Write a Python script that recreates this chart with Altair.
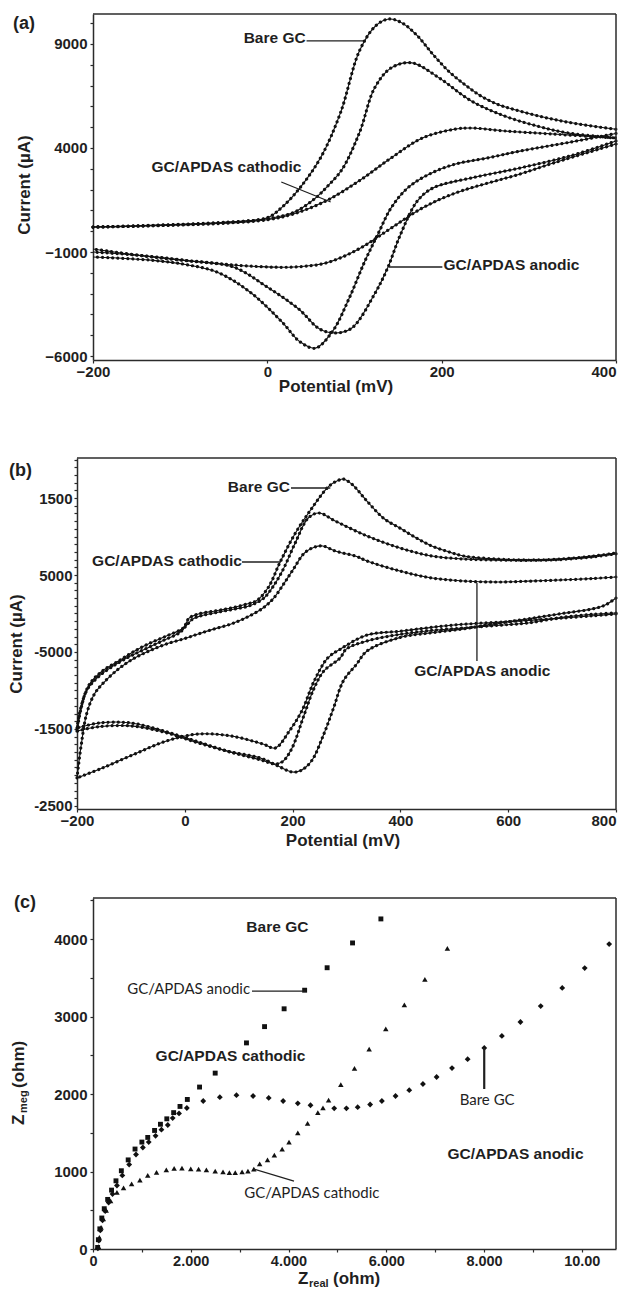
import altair as alt
import pandas as pd

FONT = "Liberation Sans"
NOTE_FONT = "Lato"
INK = "#1f1f1f"
FRAME = "#2b2b2b"
LINE = "#111111"

# ---------------- Panel (a): cyclic voltammograms, -200..400 mV ----------------
a_bare_fwd_mv = [-200, -150, -100, -50, 0, 17, 39, 62, 84, 106, 125, 140, 155, 172, 190, 209, 228, 245, 264, 283, 320, 357, 400]
a_bare_fwd_ua = [200, 260, 330, 430, 650, 1160, 2170, 3600, 5700, 8700, 9900, 10200, 10000, 9400, 8500, 7650, 7000, 6500, 6100, 5850, 5450, 5150, 4900]
a_bare_rev_mv = [400, 350, 290, 250, 216, 186, 161, 142, 127, 112, 94, 75, 55, 37, 17, -20, -58, -94, -131, -200]
a_bare_rev_ua = [4700, 4300, 3850, 3500, 3230, 2750, 2080, 1120, -130, -1430, -3210, -4800, -5620, -5300, -4370, -2920, -1960, -1600, -1400, -1240]

a_mid_fwd_mv = [-200, -150, -100, -50, 0, 30, 54, 70, 86, 106, 123, 142, 166, 197, 234, 272, 309, 345, 400]
a_mid_fwd_ua = [200, 250, 320, 410, 600, 900, 1550, 2200, 2990, 4770, 6880, 7850, 8090, 7370, 6260, 5540, 5060, 4720, 4480]
a_mid_rev_mv = [400, 350, 290, 234, 190, 172, 153, 138, 123, 97, 78, 60, 36, -2, -39, -94, -150, -200]
a_mid_rev_ua = [4340, 3650, 3040, 2560, 2080, 1450, -130, -1770, -3020, -4650, -4890, -4700, -3740, -2630, -1720, -1400, -1150, -1000]

a_low_fwd_mv = [-200, -150, -100, -50, 0, 30, 67, 105, 142, 178, 216, 234, 272, 328, 400]
a_low_fwd_ua = [200, 240, 300, 380, 550, 830, 1450, 2410, 3520, 4480, 4910, 4960, 4820, 4670, 4480]
a_low_rev_mv = [400, 330, 290, 216, 178, 142, 105, 67, 30, -10, -60, -130, -200]
a_low_rev_ua = [4190, 3300, 2750, 1840, 1120, 150, -850, -1530, -1720, -1700, -1550, -1250, -855]

# ---------------- Panel (b): cyclic voltammograms, -200..800 mV ----------------
b_bare_fwd_mv = [-200, -192, -177, -153, -123, -93, -64, -34, -3, 8, 25, 56, 86, 115, 133, 155, 177, 204, 235, 267, 285, 294, 310, 338, 370, 399, 430, 458, 490, 517, 578, 637, 696, 757, 800]
b_bare_fwd_ua = [-14870, -12000, -9200, -7470, -6170, -4870, -3830, -2920, -1880, -600, -70, 330, 710, 1230, 1650, 3400, 6700, 10300, 13600, 16500, 17300, 17470, 16800, 14600, 12300, 11100, 9800, 8770, 8000, 7470, 7080, 6950, 7080, 7450, 7860]
b_bare_rev_mv = [800, 780, 757, 700, 637, 578, 517, 458, 400, 338, 319, 294, 276, 258, 235, 215, 199, 170, 140, 79, 20, -39, -100, -159, -200]
b_bare_rev_ua = [2010, 1100, 600, 0, -700, -1300, -2000, -2500, -3100, -4870, -6560, -8770, -12270, -15650, -19160, -20400, -20580, -19700, -18770, -17860, -16560, -15260, -14220, -14220, -14870]

b_mid_fwd_mv = [-200, -193, -182, -160, -130, -100, -70, -40, -10, 5, 15, 30, 60, 90, 120, 145, 158, 181, 204, 229, 249, 279, 338, 399, 458, 517, 578, 637, 696, 757, 800]
b_mid_fwd_ua = [-15260, -12500, -10000, -8200, -6700, -5500, -4500, -3500, -2500, -1400, -700, -300, 150, 550, 1000, 1900, 2920, 5520, 9030, 12400, 13050, 12010, 10070, 8510, 7470, 7080, 6950, 6900, 7000, 7350, 7750]
b_mid_rev_mv = [800, 757, 700, 637, 578, 517, 458, 400, 338, 300, 288, 258, 240, 222, 199, 182, 168, 140, 79, 20, -39, -100, -159, -200]
b_mid_rev_ua = [65, -100, -500, -1230, -1550, -1880, -2200, -2700, -3570, -4600, -5780, -7470, -9680, -13050, -17470, -19200, -19550, -19000, -17900, -16700, -15400, -14600, -14700, -15260]

b_low_fwd_mv = [-200, -192, -182, -168, -153, -123, -93, -64, -34, 0, 25, 55, 86, 115, 145, 165, 185, 200, 222, 240, 256, 279, 319, 338, 399, 458, 517, 578, 637, 696, 757, 800]
b_low_fwd_ua = [-21360, -17000, -13000, -10500, -9160, -7200, -5780, -4800, -3960, -3250, -2660, -2000, -1360, -500, 710, 2000, 4000, 5600, 7860, 8600, 8770, 8120, 7400, 6820, 5520, 4610, 4220, 4090, 4200, 4350, 4550, 4740]
b_low_rev_mv = [800, 757, 700, 637, 578, 517, 458, 400, 338, 289, 265, 240, 217, 194, 168, 145, 86, 25, -34, -93, -153, -200]
b_low_rev_ua = [-65, -300, -600, -900, -1150, -1400, -1800, -2300, -2800, -4610, -5780, -8770, -12660, -15260, -17470, -16950, -15910, -15650, -16560, -18250, -20070, -21360]

# ---------------- Panel (c): Nyquist plots ----------------
c_top_re = [95, 110, 140, 180, 230, 300, 380, 470, 580, 720, 860, 1000, 1120, 1260, 1380, 1510, 1650, 1780, 1930, 2180, 2500, 3140, 3510, 3910, 4330, 4790, 5310, 5890]
c_top_im = [20, 120, 260, 400, 520, 640, 760, 880, 1010, 1150, 1290, 1380, 1440, 1530, 1610, 1680, 1760, 1840, 1930, 2090, 2270, 2660, 2870, 3100, 3340, 3630, 3950, 4260]

c_mid_re = [100, 120, 150, 195, 250, 320, 400, 490, 600, 740, 880, 1020, 1140, 1280, 1400, 1530, 1630, 1760, 1920, 2255, 2595, 2935, 3275, 3595, 3890, 4190, 4450, 4935, 5185, 5415, 5670, 5910, 6190, 6470, 6750, 7030, 7345, 7665, 8005, 8365, 8745, 9160, 9600, 10060, 10560]
c_mid_im = [10, 110, 240, 370, 490, 600, 710, 820, 950, 1090, 1220, 1310, 1380, 1460, 1540, 1600, 1690, 1750, 1820, 1910, 1960, 1985, 1975, 1950, 1910, 1880, 1855, 1815, 1815, 1830, 1865, 1910, 1975, 2050, 2130, 2220, 2335, 2450, 2595, 2750, 2930, 3135, 3370, 3625, 3935]

c_low_re = [110, 130, 165, 210, 270, 360, 490, 625, 790, 960, 1120, 1300, 1500, 1660, 1820, 2000, 2160, 2320, 2500, 2660, 2790, 2910, 3050, 3170, 3290, 3410, 3570, 3710, 3870, 4010, 4190, 4390, 4600, 4705, 4820, 5070, 5350, 5650, 5990, 6370, 6790, 7250]
c_low_im = [30, 150, 280, 390, 500, 620, 730, 790, 840, 890, 950, 990, 1020, 1040, 1045, 1035, 1030, 1020, 1005, 995, 985, 985, 995, 1005, 1030, 1100, 1150, 1210, 1290, 1380, 1500, 1620, 1760, 1820, 1920, 2120, 2330, 2580, 2840, 3150, 3480, 3880]


def cv_table(series):
    rows = []
    for key, mv, ua in series:
        for i, (x, y) in enumerate(zip(mv, ua)):
            rows.append({"key": key, "i": i, "mV": x, "uA": y})
    return pd.DataFrame(rows)


class Panel:
    def __init__(self, xs, ys, xaxis, yaxis, xf, yf):
        self.xs, self.ys, self.xaxis, self.yaxis, self.xf, self.yf = xs, ys, xaxis, yaxis, xf, yf

    def xy(self):
        return dict(x=alt.X(f"{self.xf}:Q", scale=self.xs, axis=self.xaxis),
                    y=alt.Y(f"{self.yf}:Q", scale=self.ys, axis=self.yaxis))

    def cv(self, df):
        line = alt.Chart(df).mark_line(color=LINE, strokeWidth=1.1, interpolate="catmull-rom").encode(
            detail="key:N", order="i:Q", **self.xy())
        dots = alt.Chart(df).mark_line(color=LINE, strokeWidth=3.2, strokeCap="round",
                                       strokeDash=[0.01, 5.0], interpolate="catmull-rom").encode(
            detail="key:N", order="i:Q", **self.xy())
        return [line, dots]

    def scatter(self, re, im, shape, size):
        df = pd.DataFrame({self.xf: re, self.yf: im})
        return alt.Chart(df).mark_point(filled=True, shape=shape, size=size, color=LINE, opacity=1).encode(**self.xy())

    def note(self, text, xv, yv, align="left", bold=True, size=15.5):
        df = pd.DataFrame({self.xf: [xv], self.yf: [yv], "t": [text]})
        return alt.Chart(df).mark_text(font=FONT if bold else NOTE_FONT,
                                       fontWeight="bold" if bold else "normal",
                                       fontSize=size, align=align, baseline="middle", color=INK).encode(
            text="t:N", **self.xy())

    def pointer(self, x1, y1, x2, y2, width=1.3):
        df = pd.DataFrame({self.xf: [x1], self.yf: [y1], "x2": [x2], "y2": [y2]})
        return alt.Chart(df).mark_rule(color=INK, strokeWidth=width).encode(
            x2="x2:Q", y2="y2:Q", **self.xy())


def px_text(text, x, y, size=17, angle=0, align="center", baseline="middle", weight="bold", font=FONT):
    return alt.Chart(pd.DataFrame({"t": [text]})).mark_text(
        font=font, fontSize=size, fontWeight=weight, align=align, baseline=baseline,
        angle=angle, color=INK).encode(x=alt.value(x), y=alt.value(y), text="t:N")


def px_rule(x, y, x2=None, y2=None):
    enc = {"x": alt.value(x), "y": alt.value(y)}
    if x2 is not None:
        enc["x2"] = alt.value(x2)
    if y2 is not None:
        enc["y2"] = alt.value(y2)
    return alt.Chart(pd.DataFrame({"k": [0]})).mark_rule(color=FRAME, strokeWidth=1.5).encode(**enc)


def ax(**kw):
    base = dict(title=None, grid=False, labelFont=FONT, labelFontSize=15, labelFontWeight="bold",
                labelColor=INK, domainColor=FRAME, domainWidth=1.5, tickColor=FRAME, tickWidth=1.2,
                tickSize=3, labelOverlap=False, labelFlush=False)
    base.update(kw)
    return alt.Axis(**base)


NO_VIEW = alt.ViewBackground(stroke="transparent", strokeWidth=0)
W = 523  # plot width shared by the three panels (page width is limited)

# ---------------- build panel (a) ----------------
A_H = 346
pa = Panel(alt.Scale(domain=[-200, 400], nice=False, zero=False),
           alt.Scale(domain=[-6190, 10440], nice=False, zero=False),
           ax(values=[-200, 0, 200, 400], format="d", labelPadding=1,
              labelAlign={"condition": {"test": "datum.value == 400", "value": "right"}, "value": "center"}),
           ax(values=list(range(-6000, 10001, 1000)), format="d", labelPadding=3,
              labelExpr="(datum.value + 6000) % 5000 == 0 ? datum.label : ''"),
           "mV", "uA")
df_a = cv_table([
    ("bare-f", a_bare_fwd_mv, a_bare_fwd_ua), ("bare-r", a_bare_rev_mv, a_bare_rev_ua),
    ("mid-f", a_mid_fwd_mv, a_mid_fwd_ua), ("mid-r", a_mid_rev_mv, a_mid_rev_ua),
    ("low-f", a_low_fwd_mv, a_low_fwd_ua), ("low-r", a_low_rev_mv, a_low_rev_ua),
])
layers_a = pa.cv(df_a) + [
    pa.note("Bare GC", 44, 9290, align="right"),
    pa.pointer(45, 9145, 110, 9145),
    pa.note("GC/APDAS cathodic", 39, 3090, align="right"),
    pa.pointer(16, 2366, 72.7, 1404),
    pa.note("GC/APDAS anodic", 202, -1625, align="left"),
    pa.pointer(139.5, -1721, 200.8, -1721),
    px_rule(0, 0, x2=W), px_rule(W, 0, y2=A_H),
    px_text("(a)", -80, 10, size=18, align="left"),
    px_text("Potential (mV)", 243, 373),
    px_text("Current (µA)", -68, 171, angle=270),
]
chart_a = alt.layer(*layers_a).properties(width=W, height=A_H, view=NO_VIEW)

# ---------------- build panel (b) ----------------
B_H = 360
pb = Panel(alt.Scale(domain=[-200, 800], range=[-16, W], nice=False, zero=False),
           alt.Scale(domain=[-25390, 20195], range=[360, 9], nice=False, zero=False),
           ax(values=[-200, 0, 200, 400, 600, 800], format="d", labelPadding=1,
              labelAlign={"condition": {"test": "datum.value == 800", "value": "right"}, "value": "center"}),
           ax(values=list(range(-25000, 20001, 1000)), offset=16, labelPadding=2,
              labelExpr=("datum.value == 15000 ? '1500' : datum.value == 5000 ? '5000' : "
                         "datum.value == -5000 ? '-5000' : datum.value == -15000 ? '-1500' : "
                         "datum.value == -25000 ? '-2500' : ''")),
           "mV", "uA")
df_b = cv_table([
    ("bare-f", b_bare_fwd_mv, b_bare_fwd_ua), ("bare-r", b_bare_rev_mv, b_bare_rev_ua),
    ("mid-f", b_mid_fwd_mv, b_mid_fwd_ua), ("mid-r", b_mid_rev_mv, b_mid_rev_ua),
    ("low-f", b_low_fwd_mv, b_low_fwd_ua), ("low-r", b_low_rev_mv, b_low_rev_ua),
])
layers_b = pb.cv(df_b) + [
    pb.note("Bare GC", 195, 16430, align="right"),
    pb.pointer(197, 16300, 270, 16300),
    pb.note("GC/APDAS cathodic", 106, 6820, align="right"),
    pb.pointer(106, 6690, 177.5, 6690),
    pb.note("GC/APDAS anodic", 552, -7470, align="center"),
    pb.pointer(542, 3960, 542, -6170),
    px_rule(-16, 9, x2=W), px_rule(W, 9, y2=B_H),
    px_text("(b)", -84, 22, size=18, align="left"),
    px_text("Potential (mV)", 250, 392),
    px_text("Current (µA)", -76, 195, angle=270),
]
chart_b = alt.layer(*layers_b).properties(width=W, height=B_H, view=NO_VIEW)

# ---------------- build panel (c) ----------------
C_H = 351
pc = Panel(alt.Scale(domain=[0, 10700], nice=False, zero=False),
           alt.Scale(domain=[0, 4530], nice=False, zero=False),
           ax(values=list(range(0, 10001, 1000)), labelPadding=2, labelFontSize=14.5,
              labelExpr=("datum.value % 2000 != 0 ? '' : datum.value == 0 ? '0' : "
                         "datum.value == 10000 ? '10.00' : format(datum.value / 1000, '.3f')")),
           ax(values=list(range(0, 4501, 500)), format="d", labelPadding=3,
              labelExpr="datum.value % 1000 == 0 ? datum.label : ''"),
           "re", "im")
layers_c = [
    pc.scatter(c_top_re, c_top_im, "square", 24),
    pc.scatter(c_mid_re, c_mid_im, "diamond", 34),
    pc.scatter(c_low_re, c_low_im, "triangle-up", 30),
    pc.note("Bare GC", 3772, 4155, align="center"),
    pc.note("GC/APDAS anodic", 3214, 3355, align="right", bold=False, size=15),
    pc.pointer(3253, 3329, 4351, 3329),
    pc.note("GC/APDAS cathodic", 2814, 2490, align="center"),
    pc.note("GC/APDAS cathodic", 3094, 723, align="left", bold=False, size=15),
    pc.pointer(3293, 1032, 4112, 877),
    pc.note("Bare GC", 8064, 1923, align="center", bold=False, size=15),
    pc.pointer(8004, 2594, 8004, 2065, width=2.2),
    pc.note("GC/APDAS anodic", 8643, 1226, align="center"),
    px_rule(0, 0, x2=W), px_rule(W, 0, y2=C_H),
    px_text("(c)", -79, 5, size=18, align="left"),
    # x title: Z_real (ohm)
    px_text("Z", 205, 386, size=17, align="left", baseline="alphabetic"),
    px_text("real", 216, 389, size=11, align="left", baseline="alphabetic"),
    px_text("(ohm)", 240, 386, size=17, align="left", baseline="alphabetic"),
    # y title: Z_meg (ohm), rotated
    px_text("Z", -69, 227, size=17, angle=270, align="left", baseline="alphabetic"),
    px_text("meg", -66, 215, size=11, angle=270, align="left", baseline="alphabetic"),
    px_text("(ohm)", -69, 190, size=17, angle=270, align="left", baseline="alphabetic"),
]
chart_c = alt.layer(*layers_c).properties(width=W, height=C_H, view=NO_VIEW)

chart = alt.vconcat(chart_a, chart_b, chart_c, spacing=89, bounds="flush").properties(
    padding={"left": 0, "top": 4, "right": 0, "bottom": 0}
).configure_view(stroke="transparent", strokeWidth=0).configure(font=FONT)

chart.save("out.html", embed_options={"renderer": "svg", "actions": False})
